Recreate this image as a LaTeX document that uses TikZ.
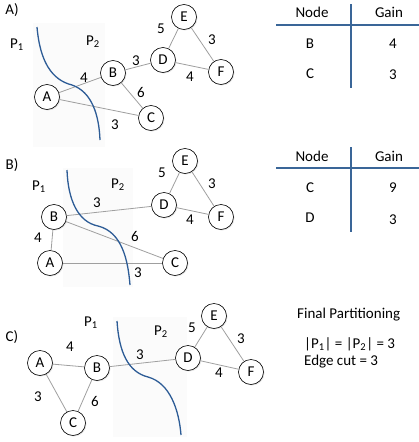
\documentclass[tikz,border=0pt]{standalone}
\usepackage{fontspec}
\setmainfont{Carlito}
\usetikzlibrary{shadows}
\definecolor{cutblue}{HTML}{2D5C96}
\definecolor{tabblue}{HTML}{3A6698}

\begin{document}
\begin{tikzpicture}[x=1pt, y=-1pt,
  font=\fontsize{15}{18}\selectfont,
  vtx/.style={draw, circle, fill=white, minimum size=25pt, inner sep=0pt, line width=0.6pt,
              drop shadow={opacity=0.2, shadow xshift=1pt, shadow yshift=-1pt}},
  edge/.style={draw=gray!75, line width=0.8pt},
  cut/.style={draw=cutblue, line width=1.3pt},
  tab/.style={draw=tabblue, line width=1.7pt},
  pane/.style={fill=black!1.5, draw=none}
]
\useasboundingbox (0,0) rectangle (419,442);

% ---------------- A) ----------------
\fill[pane] (33,23) rectangle (105,147);
\node (tagA) at (12,10) {A)};
\node (pa1) at (17,45) {P\textsubscript{1}};
\node (pa2) at (93,42) {P\textsubscript{2}};

\node[vtx] (aA) at (47,97) {A};
\node[vtx] (aB) at (113,73) {B};
\node[vtx] (aC) at (151,118) {C};
\node[vtx] (aD) at (163,60) {D};
\node[vtx] (aE) at (184,17) {E};
\node[vtx] (aF) at (221,72) {F};

\draw[edge] (aA) -- (aB);
\draw[edge] (aA) -- (aC);
\draw[edge] (aB) -- (aC);
\draw[edge] (aB) -- (aD);
\draw[edge] (aD) -- (aE);
\draw[edge] (aD) -- (aF);
\draw[edge] (aE) -- (aF);

\node (waAB) at (84,78) {4};
\node (waAC) at (115,125) {3};
\node (waBC) at (141,92) {6};
\node (waBD) at (136,61) {3};
\node (waDE) at (161,29) {5};
\node (waDF) at (190,77) {4};
\node (waEF) at (212,40) {3};

\draw[cut] (37,27) .. controls (40,62) and (52,80) .. (72,85)
                   .. controls (92,92) and (99,115) .. (100,140);

\draw[tab] (276,25) -- (419,25);
\draw[tab] (351,4) -- (351,88);
\node (hdnA) at (312,12) {Node};
\node (hdgA) at (389,12) {Gain};
\node (naB) at (310,44) {B};
\node (gaB) at (393,44) {4};
\node (naC) at (310,74) {C};
\node (gaC) at (393,75) {3};

% ---------------- B) ----------------
\fill[pane] (63,168) rectangle (133,287);
\node (tagB) at (12,165) {B)};
\node (pb1) at (39,187) {P\textsubscript{1}};
\node (pb2) at (118,185) {P\textsubscript{2}};

\node[vtx] (bA) at (50,263) {A};
\node[vtx] (bB) at (54,217) {B};
\node[vtx] (bC) at (175,263) {C};
\node[vtx] (bD) at (164,205) {D};
\node[vtx] (bE) at (185,161) {E};
\node[vtx] (bF) at (221,217) {F};

\draw[edge] (bA) -- (bB);
\draw[edge] (bA) -- (bC);
\draw[edge] (bB) -- (bC);
\draw[edge] (bB) -- (bD);
\draw[edge] (bD) -- (bE);
\draw[edge] (bD) -- (bF);
\draw[edge] (bE) -- (bF);

\node (wbAB) at (38,238) {4};
\node (wbAC) at (138,273) {3};
\node (wbBC) at (135,236) {6};
\node (wbBD) at (97,203) {3};
\node (wbDE) at (162,173) {5};
\node (wbDF) at (190,220) {4};
\node (wbEF) at (212,184) {3};

\draw[cut] (67,170) .. controls (68,200) and (78,222) .. (98,226)
                    .. controls (122,232) and (128,260) .. (130,285);

\draw[tab] (276,168) -- (419,168);
\draw[tab] (351,147) -- (351,232);
\node (hdnB) at (312,156) {Node};
\node (hdgB) at (389,156) {Gain};
\node (nbC) at (310,188) {C};
\node (gbC) at (393,188) {9};
\node (nbD) at (310,218) {D};
\node (gbD) at (393,220) {3};

% ---------------- C) ----------------
\fill[pane] (113,317) rectangle (187,437);
\node (tagC) at (12,337) {C)};
\node (pc1) at (91,323) {P\textsubscript{1}};
\node (pc2) at (161,332) {P\textsubscript{2}};

\node[vtx] (cA) at (40,363) {A};
\node[vtx] (cB) at (97,368) {B};
\node[vtx] (cC) at (73,423) {C};
\node[vtx] (cD) at (188,358) {D};
\node[vtx] (cE) at (214,316) {E};
\node[vtx] (cF) at (251,372) {F};

\draw[edge] (cA) -- (cB);
\draw[edge] (cA) -- (cC);
\draw[edge] (cB) -- (cC);
\draw[edge] (cB) -- (cD);
\draw[edge] (cD) -- (cE);
\draw[edge] (cD) -- (cF);
\draw[edge] (cE) -- (cF);

\node (wcAB) at (70,347) {4};
\node (wcAC) at (38,397) {3};
\node (wcBC) at (95,401) {6};
\node (wcBD) at (140,355) {3};
\node (wcDE) at (192,328) {5};
\node (wcDF) at (219,373) {4};
\node (wcEF) at (241,339) {3};

\draw[cut] (117,321) .. controls (119,352) and (128,372) .. (148,377)
                     .. controls (170,383) and (179,410) .. (181,435);

\node[anchor=west, inner sep=0pt] (fin) at (297,315) {Final Partitioning};
\node[anchor=west, inner sep=0pt] (sizes) at (304,344) {|P\textsubscript{1}| = |P\textsubscript{2}| = 3};
\node[anchor=west, inner sep=0pt] (ecut) at (304,362) {Edge cut = 3};
\end{tikzpicture}
\end{document}
